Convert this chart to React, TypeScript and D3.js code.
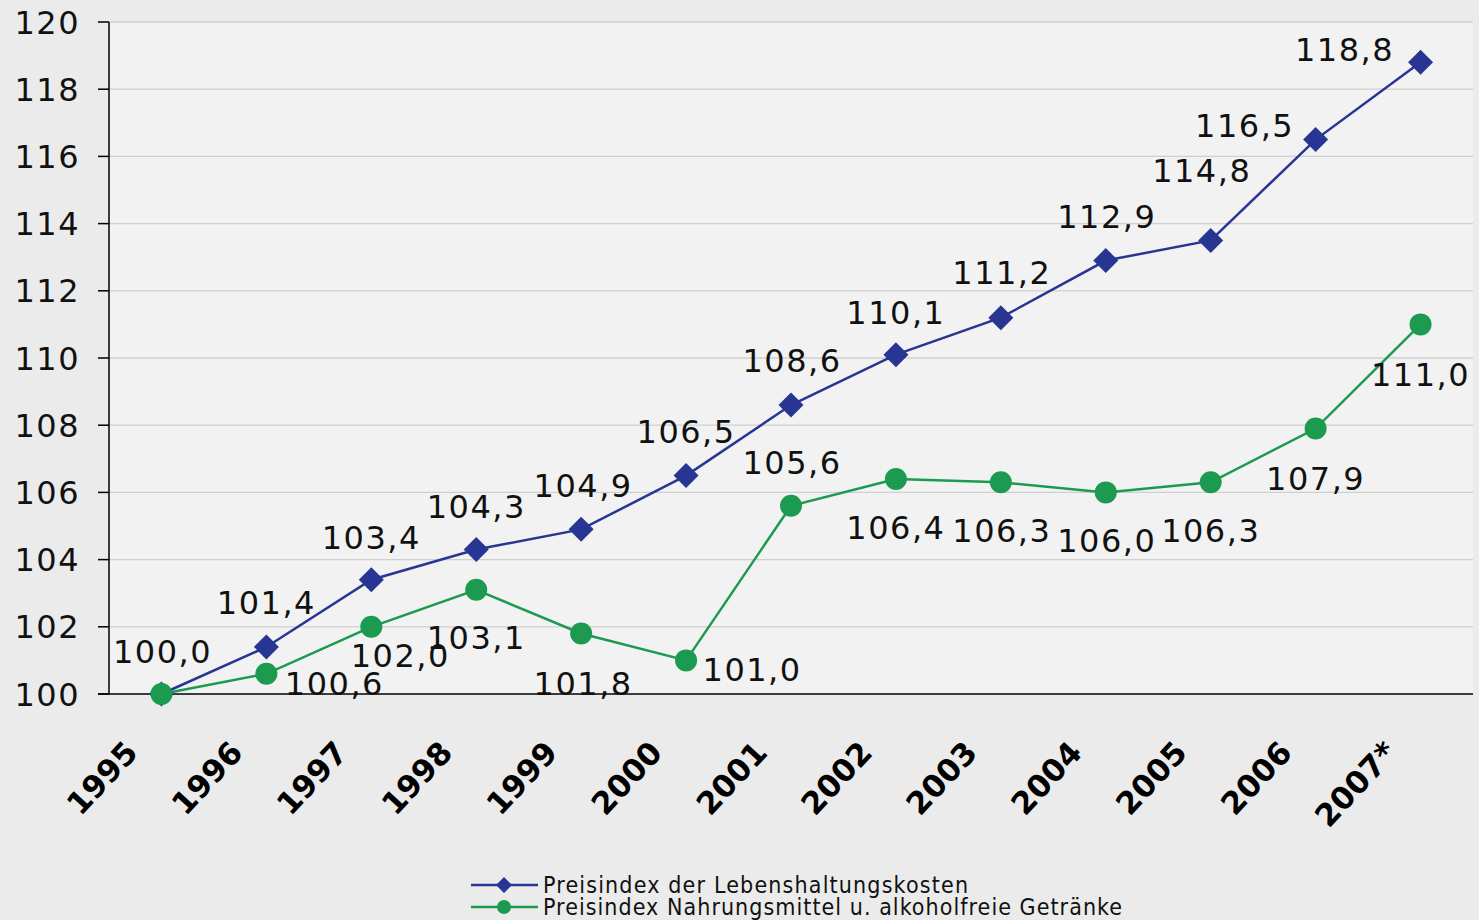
import React from "react";
import * as d3 from "d3";

const years = ["1995", "1996", "1997", "1998", "1999", "2000", "2001", "2002", "2003", "2004", "2005", "2006", "2007*"];
const costOfLiving = [100.0, 101.4, 103.4, 104.3, 104.9, 106.5, 108.6, 110.1, 111.2, 112.9, 113.5, 116.5, 118.8];
const costOfLivingLabels = ["100,0", "101,4", "103,4", "104,3", "104,9", "106,5", "108,6", "110,1", "111,2", "112,9", "114,8", "116,5", "118,8"];
const food = [100.0, 100.6, 102.0, 103.1, 101.8, 101.0, 105.6, 106.4, 106.3, 106.0, 106.3, 107.9, 111.0];
const foodLabels = ["", "100,6", "102,0", "103,1", "101,8", "101,0", "105,6", "106,4", "106,3", "106,0", "106,3", "107,9", "111,0"];
const yTicks = [100, 102, 104, 106, 108, 110, 112, 114, 116, 118, 120];
const seriesNames = ["Preisindex der Lebenshaltungskosten", "Preisindex Nahrungsmittel u. alkoholfreie Getränke"];

// label nudges (pixels) relative to their points
const blueDx = [1, 0, 0, 0, 2, 0, 1, 0, 1, 1, -9, -71, -76];
const blueDy = [-43, -44, -42, -43, -44, -44, -45, -42, -45, -44, -70, -14, -13];
const greenDx = [0, 68, 29, 0, 2, 66, 1, 0, 1, 1, 0, 0, 0];
const greenDy = [0, 10, 29, 48, 50, 9, -43, 49, 48, 48, 48, 50, 50];

const W = 1479, H = 920;
const left = 109, right = 1473, top = 22, bottom = 694;
const BLUE = "#283592";
const GREEN = "#1b9a50";
const FONT = "'DejaVu Sans', sans-serif";

export default function App() {
  const x = d3.scaleBand().domain(years).range([left, right]).paddingInner(0).paddingOuter(0);
  const cx = (i: number) => (x(years[i]) as number) + x.bandwidth() / 2;
  const y = d3.scaleLinear().domain([100, 120]).range([bottom, top]);
  const line = d3.line<number>().x((_, i) => cx(i)).y((d) => y(d));
  const diamond = (px: number, py: number, r: number) => `M${px},${py - r}L${px + r},${py}L${px},${py + r}L${px - r},${py}Z`;

  return (
    <svg width={W} height={H} style={{ position: "absolute", left: 0, top: 0, display: "block" }} fontFamily={FONT}>
      <rect x={0} y={0} width={W} height={H} fill="#ebebeb" />
      <rect x={left} y={top} width={right - left} height={bottom - top} fill="#f2f2f2" />
      {yTicks.map((t) => (
        <g key={t}>
          {t !== 100 && <line x1={left} x2={right} y1={y(t)} y2={y(t)} stroke="#cfcfcf" strokeWidth={1.3} />}
          <line x1={left - 11} x2={left} y1={y(t)} y2={y(t)} stroke="#000" strokeWidth={1.5} />
          <text x={80} y={y(t)} dy="0.36em" textAnchor="end" fontSize={32} letterSpacing={1.5} fill="#111">
            {t}
          </text>
        </g>
      ))}
      <line x1={left} x2={left} y1={top} y2={bottom} stroke="#000" strokeWidth={1.5} />
      <line x1={left - 11} x2={right} y1={bottom} y2={bottom} stroke="#000" strokeWidth={1.5} />

      {years.map((yr, i) => (
        <text
          key={yr}
          transform={`translate(${cx(i) - 22},${bottom + 60}) rotate(-47)`}
          textAnchor="end"
          fontSize={31}
          fontWeight="bold"
          fill="#000"
        >
          {yr}
        </text>
      ))}

      <path d={line(costOfLiving) as string} fill="none" stroke={BLUE} strokeWidth={2.5} />
      {costOfLiving.map((v, i) => (
        <path key={i} d={diamond(cx(i), y(v), 12.5)} fill={BLUE} />
      ))}
      <path d={line(food) as string} fill="none" stroke={GREEN} strokeWidth={2.5} />
      {food.map((v, i) => (
        <circle key={i} cx={cx(i)} cy={y(v)} r={11} fill={GREEN} />
      ))}

      {costOfLivingLabels.map((l, i) => (
        <text key={i} x={cx(i) + blueDx[i]} y={y(costOfLiving[i]) + blueDy[i]} dy="0.36em" textAnchor="middle" fontSize={32} letterSpacing={1.5} fill="#111">
          {l}
        </text>
      ))}
      {foodLabels.map((l, i) =>
        l ? (
          <text key={i} x={cx(i) + greenDx[i]} y={y(food[i]) + greenDy[i]} dy="0.36em" textAnchor="middle" fontSize={32} letterSpacing={1.5} fill="#111">
            {l}
          </text>
        ) : null
      )}

      <g fontFamily="'DejaVu Sans Condensed', 'DejaVu Sans', sans-serif" fontSize={23}>
        <line x1={471} x2={538} y1={885} y2={885} stroke={BLUE} strokeWidth={2.5} />
        <path d={diamond(504, 885, 8)} fill={BLUE} />
        <text x={543} y={885} dy="0.36em" fill="#111" textLength={425} lengthAdjust="spacing">{seriesNames[0]}</text>
        <line x1={471} x2={538} y1={907} y2={907} stroke={GREEN} strokeWidth={2.5} />
        <circle cx={504} cy={907} r={7} fill={GREEN} />
        <text x={543} y={907} dy="0.36em" fill="#111" textLength={579} lengthAdjust="spacing">{seriesNames[1]}</text>
      </g>
    </svg>
  );
}
